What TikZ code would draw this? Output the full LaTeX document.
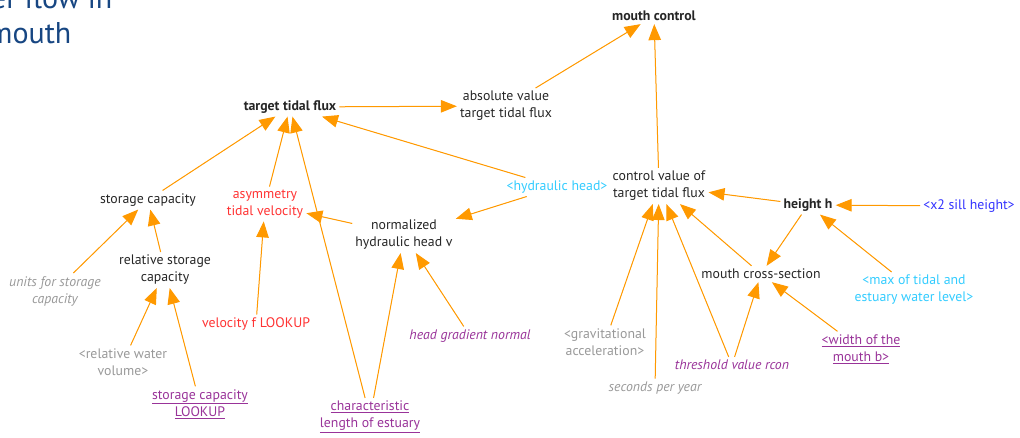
\documentclass[tikz,border=0pt]{standalone}
\usepackage{fontspec}
\setmainfont{PT Sans}
\usepackage{xcolor}
\definecolor{myorange}{RGB}{255,153,0}
\definecolor{myred}{RGB}{255,51,51}
\definecolor{mycyan}{RGB}{51,204,255}
\definecolor{myblue}{RGB}{51,51,255}
\definecolor{mypurple}{RGB}{153,51,153}
\definecolor{mygrey}{RGB}{153,153,153}
\definecolor{mytitle}{RGB}{23,70,130}
\usepackage{tikz}
\usetikzlibrary{arrows.meta}
\newcommand{\lk}[1]{\underline{#1}}
\newcommand{\txtsize}{\fontsize{13.8}{17}\selectfont}
\tikzset{
    common/.style={align=center, inner sep=3pt, text=black!85, font=\txtsize},
    level/.style={common, font=\txtsize\bfseries},
    flow/.style={common, text=myred},
    shadow/.style={common, text=mycyan},
    shadowsill/.style={common, text=myblue},
    shadowgrey/.style={common, text=mygrey},
    const/.style={common, text=mygrey, font=\txtsize\itshape},
    lookup/.style={common, text=mypurple},
    param/.style={common, text=mypurple, font=\txtsize\itshape},
    title/.style={anchor=base west, inner sep=0pt, text=mytitle, font=\fontsize{30}{33}\selectfont},
    link/.style={-{Triangle[length=16pt, width=12.5pt]}, draw=myorange, fill=myorange, line width=1pt}
}

\begin{document}
\begin{tikzpicture}[x=1pt, y=-1pt]
            \useasboundingbox (0,0) rectangle (1020,437);
            \clip (0,0) rectangle (1020,437);

            \path
                (-9,8) node[title] (title-top) {er flow in}
                (-12,43) node[title] (title-bottom) {mouth};

            \path
                (654,16) node[level] (mouth) {mouth control}
                (290,107) node[level] (target) {target tidal flux}
                (506,106) node[common] (absval) {absolute value\\target tidal flux}
                (148,200) node[common] (storage) {storage capacity}
                (265,204) node[flow] (asym) {asymmetry\\tidal velocity}
                (165,270) node[common] (relstorage) {relative storage\\capacity}
                (55,291) node[const] (units) {units for storage\\capacity}
                (404,235) node[common] (normhead) {normalized\\hydraulic head v}
                (557,187) node[shadow] (hydhead) {<hydraulic head>}
                (659,186) node[common] (ctrl) {control value of\\target tidal flux}
                (808,205) node[level] (height) {height h}
                (969,206) node[shadowsill] (sill) {<x2 sill height>}
                (761,274) node[common] (cross) {mouth cross-section}
                (914,290) node[shadow] (maxlevel) {<max of tidal and\\estuary water level>};

            \path
                (256,324) node[flow] (vellookup) {velocity f LOOKUP}
                (470,336) node[param] (gradient) {head gradient normal}
                (123,362) node[shadowgrey] (relwater) {<relative water\\volume>}
                (200,404) node[lookup] (storlookup) {\lk{storage capacity}\\\lk{LOOKUP}}
                (370,417) node[lookup] (charlength) {\lk{characteristic}\\\lk{length of estuary}}
                (605,342) node[shadowgrey] (gravity) {<gravitational\\acceleration>}
                (655,388) node[const] (seconds) {seconds per year}
                (732,365) node[param] (rcon) {threshold value rcon}
                (861,349) node[lookup] (width) {\lk{<width of the}\\\lk{mouth b>}};

            \draw[link] (absval) -- (mouth);
            \draw[link] (ctrl) -- (mouth);
            \draw[link] (target) -- (absval);
            \draw[link] (hydhead) -- (target);
            \draw[link] (hydhead) -- (normhead);
            \draw[link] (storage) -- (target);
            \draw[link] (asym) -- (target);
            \draw[link] (charlength) -- (target);
            \draw[link] (normhead) -- (asym);
            \draw[link] (units) -- (storage);
            \draw[link] (relstorage) -- (storage);
            \draw[link] (vellookup) -- (asym);
            \draw[link] (relwater) -- (relstorage);
            \draw[link] (storlookup) -- (relstorage);
            \draw[link] (charlength) -- (normhead);
            \draw[link] (gradient) -- (normhead);

            \draw[link] (height) -- (ctrl);
            \draw[link] (sill) -- (height);
            \draw[link] (height) -- (cross);
            \draw[link] (maxlevel) -- (height);
            \draw[link] (cross) -- (ctrl);
            \draw[link] (gravity) -- (ctrl);
            \draw[link] (seconds) -- (ctrl);
            \draw[link] (rcon) -- (ctrl);
            \draw[link] (rcon) -- (cross);
            \draw[link] (width) -- (cross);
        \end{tikzpicture}
\end{document}
